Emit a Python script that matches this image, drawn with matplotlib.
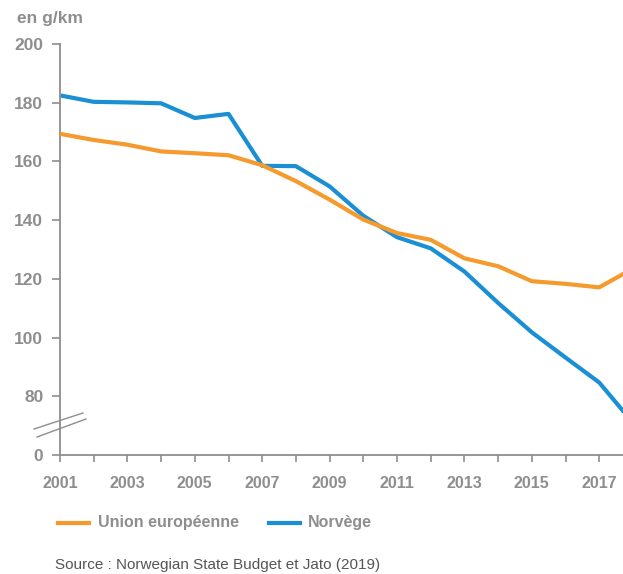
import matplotlib
matplotlib.use("Agg")
import matplotlib.pyplot as plt
from matplotlib.lines import Line2D

years = list(range(2001, 2019))
ue = [169.4, 167.3, 165.7, 163.4, 162.8, 162.1, 158.7, 153.3, 147.0, 140.2,
      135.6, 133.3, 127.0, 124.3, 119.2, 118.3, 117.1, 123.5]
norvege = [182.5, 180.3, 180.1, 179.8, 174.8, 176.2, 158.5, 158.4, 151.5, 141.5,
           134.2, 130.4, 122.5, 111.8, 101.8, 93.2, 84.7, 71.0]
series_names = ["Union européenne", "Norvège"]
ytick_vals = [60, 80, 100, 120, 140, 160, 180, 200]
ytick_labels = ["0", "80", "100", "120", "140", "160", "180", "200"]
xtick_labels_years = list(range(2001, 2018, 2))

ORANGE = "#F59A2C"
BLUE = "#1A8FD4"
GRAY = "#8E8E8E"
FONT = ["Liberation Sans Narrow", "Liberation Sans", "DejaVu Sans"]

plt.rcParams["font.family"] = FONT

fig = plt.figure(figsize=(6.23, 5.74), dpi=100)
W, H = 623, 574
ax = fig.add_axes([60 / W, 1 - 455 / H, (623 - 60) / W, (455 - 44) / H])

ax.plot(years, ue, color=ORANGE, lw=3.0, solid_capstyle="butt", zorder=3)
ax.plot(years, norvege, color=BLUE, lw=3.0, solid_capstyle="butt", zorder=2)

ax.set_xlim(2001, 2001 + (623 - 60) / 33.7)
ax.set_ylim(60, 200)

for s in ["top", "right"]:
    ax.spines[s].set_visible(False)
for s in ["left", "bottom"]:
    ax.spines[s].set_color(GRAY)
    ax.spines[s].set_linewidth(1.3)

ax.set_yticks(ytick_vals)
ax.set_yticklabels(ytick_labels)
ax.set_xticks(years[:-1])
ax.set_xticklabels([str(y) if y in xtick_labels_years else "" for y in years[:-1]])
ax.tick_params(axis="y", direction="out", length=6, width=1.2, color=GRAY,
               labelcolor=GRAY, labelsize=12.5, pad=6)
ax.tick_params(axis="x", direction="out", length=5, width=1.2, color=GRAY,
               labelcolor=GRAY, labelsize=11.5, pad=10)
for lab in ax.get_yticklabels() + ax.get_xticklabels():
    lab.set_fontweight("bold")

# axis break marks
for (x0, y0, x1, y1) in [(34, 429, 83, 413), (37, 437, 86, 419)]:
    fig.add_artist(Line2D([x0 / W, x1 / W], [1 - y0 / H, 1 - y1 / H],
                          color=GRAY, lw=1.0, transform=fig.transFigure))

fig.text(17 / W, 1 - 19 / H, "en g/km", color=GRAY, fontsize=12.5, fontweight="bold",
         va="center", ha="left")

# legend
fig.add_artist(Line2D([58 / W, 89 / W], [1 - 523 / H] * 2, color=ORANGE, lw=3.0,
                      transform=fig.transFigure))
fig.text(98 / W, 1 - 523 / H, series_names[0], color=GRAY, fontsize=11.5,
         fontweight="bold", va="center", ha="left")
fig.add_artist(Line2D([269 / W, 300 / W], [1 - 523 / H] * 2, color=BLUE, lw=3.0,
                      transform=fig.transFigure))
fig.text(308 / W, 1 - 523 / H, series_names[1], color=GRAY, fontsize=11.5,
         fontweight="bold", va="center", ha="left")

fig.text(55 / W, 1 - 565 / H, "Source : Norwegian State Budget et Jato (2019)",
         color="#555555", fontsize=11, va="center", ha="left",
         family=["Liberation Sans", "DejaVu Sans"])

fig.savefig("out.png", dpi=100)
